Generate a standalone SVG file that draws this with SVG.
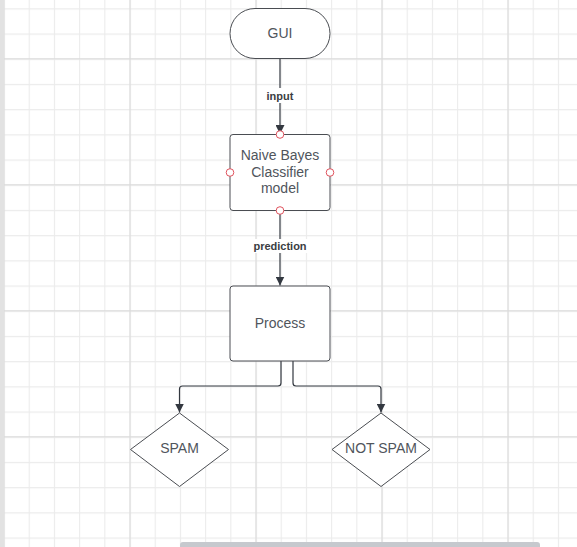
<svg xmlns="http://www.w3.org/2000/svg" width="577" height="547" viewBox="0 0 577 547">
<defs>
<pattern id="minor" x="3.5" y="8.3" width="25.2" height="25.2" patternUnits="userSpaceOnUse">
<path d="M0.5 0V25.2M0 0.5H25.2" stroke="#ebebeb" stroke-width="1.2" fill="none"/>
</pattern>
<pattern id="major" x="3.5" y="58.3" width="126" height="126" patternUnits="userSpaceOnUse">
<path d="M0.5 0V126M0 0.5H126" stroke="#dadada" stroke-width="1.2" fill="none"/>
</pattern>
<marker id="arr" viewBox="0 0 10 10" refX="10" refY="5" markerWidth="9" markerHeight="9" markerUnits="userSpaceOnUse" orient="auto">
<path d="M0 0L10 5L0 10Z" fill="#333840"/>
</marker>
</defs>
<style>
.shape{fill:#ffffff;stroke:#4a4d52;stroke-width:1}
.txt{font-family:"Liberation Sans",Arial,sans-serif;font-size:14px;fill:#50555c;text-anchor:middle}
.lbl{font-family:"Liberation Sans",Arial,sans-serif;font-size:11px;font-weight:bold;fill:#3a3d42;text-anchor:middle}
.conn{fill:none;stroke:#333840;stroke-width:1.2}
.port{fill:#ffffff;stroke:#e0525d;stroke-width:1}
</style>
<rect width="577" height="547" fill="#ffffff"/>
<rect width="577" height="547" fill="url(#minor)"/>
<rect width="577" height="547" fill="url(#major)"/>
<rect x="0" y="0" width="4" height="547" fill="#e2e2e2"/>
<rect x="180" y="542" width="360" height="8" rx="3" fill="#c6c9ce"/>

<g id="connectors">
<path class="conn" d="M280 58.5V88" />
<path class="conn" d="M280 103V134" marker-end="url(#arr)"/>
<rect x="262" y="88" width="36" height="15" fill="#ffffff"/>
<text class="lbl" x="280" y="99.5">input</text>
<path class="conn" d="M280 210.5V239" />
<path class="conn" d="M280 253V285.5" marker-end="url(#arr)"/>
<rect x="250" y="239" width="60" height="14" fill="#ffffff"/>
<text class="lbl" x="280" y="250">prediction</text>
<path class="conn" d="M281 361V383a3 3 0 0 1-3 3H182.5a3 3 0 0 0-3 3V412.5" marker-end="url(#arr)"/>
<path class="conn" d="M293 361V383a3 3 0 0 0 3 3H378a3 3 0 0 1 3 3V412.5" marker-end="url(#arr)"/>
</g>

<g id="gui">
<rect class="shape" x="230" y="8.5" width="100" height="50" rx="25"/>
<text class="txt" x="280" y="38">GUI</text>
</g>

<g id="naive-bayes">
<rect class="shape" x="230" y="134.5" width="100" height="76" rx="3"/>
<text class="txt" x="280" y="160">Naive Bayes</text>
<text class="txt" x="280" y="176.5">Classifier</text>
<text class="txt" x="280" y="193">model</text>
<circle class="port" cx="280" cy="134.5" r="3.8"/>
<circle class="port" cx="230" cy="172.5" r="3.8"/>
<circle class="port" cx="330" cy="172.5" r="3.8"/>
<circle class="port" cx="280" cy="210.5" r="3.8"/>
</g>

<g id="process">
<rect class="shape" x="230" y="286" width="100" height="75" rx="3"/>
<text class="txt" x="280" y="328">Process</text>
</g>

<g id="spam">
<path class="shape" d="M179.5 413L228.5 449.5L179.5 486.5L130.5 449.5Z" stroke-linejoin="round"/>
<text class="txt" x="179.5" y="453">SPAM</text>
</g>

<g id="not-spam">
<path class="shape" d="M381 413L430 449.5L381 486.5L332 449.5Z" stroke-linejoin="round"/>
<text class="txt" x="381" y="453">NOT SPAM</text>
</g>
</svg>
